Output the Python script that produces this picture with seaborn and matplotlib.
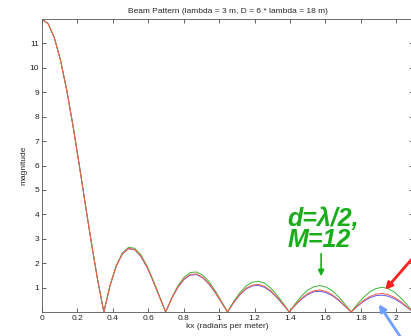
import numpy as np
import seaborn as sns
import matplotlib.pyplot as plt

sns.set_style("ticks")
plt.rcParams["font.family"] = ["Liberation Sans", "DejaVu Sans"]

# kx samples, 10 per lobe (nulls every ~0.349 rad/m)
kx = np.linspace(0, 2 * np.pi / 3, 61)

# d = lambda/2, M = 12 (green)
mag_green = [12.0, 11.81, 11.23, 10.31, 9.10, 7.66, 6.08, 4.44, 2.83, 1.32, 0.0,
             1.09, 1.90, 2.42, 2.65, 2.61, 2.34, 1.88, 1.29, 0.65, 0.0,
             0.59, 1.08, 1.43, 1.62, 1.64, 1.51, 1.25, 0.88, 0.45, 0.0,
             0.43, 0.79, 1.06, 1.22, 1.26, 1.18, 0.98, 0.70, 0.36, 0.0,
             0.35, 0.66, 0.90, 1.04, 1.08, 1.02, 0.86, 0.62, 0.32, 0.0,
             0.32, 0.60, 0.82, 0.96, 1.01, 0.96, 0.81, 0.59, 0.31, 0.0]
# red curve
mag_red = [12.0, 11.80, 11.23, 10.30, 9.09, 7.64, 6.06, 4.42, 2.81, 1.31, 0.0,
           1.08, 1.88, 2.39, 2.61, 2.56, 2.29, 1.83, 1.26, 0.63, 0.0,
           0.57, 1.03, 1.36, 1.54, 1.56, 1.42, 1.17, 0.82, 0.42, 0.0,
           0.39, 0.72, 0.97, 1.10, 1.13, 1.05, 0.87, 0.62, 0.32, 0.0,
           0.30, 0.56, 0.76, 0.87, 0.90, 0.84, 0.70, 0.50, 0.26, 0.0,
           0.25, 0.47, 0.63, 0.73, 0.76, 0.71, 0.60, 0.43, 0.22, 0.0]
# blue curve
mag_blue = [12.0, 11.80, 11.23, 10.30, 9.08, 7.64, 6.05, 4.41, 2.81, 1.31, 0.0,
            1.07, 1.87, 2.38, 2.59, 2.55, 2.27, 1.82, 1.25, 0.62, 0.0,
            0.56, 1.02, 1.34, 1.51, 1.53, 1.40, 1.14, 0.80, 0.41, 0.0,
            0.38, 0.70, 0.94, 1.07, 1.09, 1.01, 0.84, 0.59, 0.30, 0.0,
            0.29, 0.53, 0.72, 0.83, 0.85, 0.79, 0.66, 0.47, 0.24, 0.0,
            0.23, 0.43, 0.58, 0.67, 0.69, 0.65, 0.54, 0.39, 0.20, 0.0]

xticks = [0, 0.2, 0.4, 0.6, 0.8, 1, 1.2, 1.4, 1.6, 1.8, 2]
xtick_labels = ["0", "0.2", "0.4", "0.6", "0.8", "1", "1.2", "1.4", "1.6", "1.8", "2"]
yticks = list(range(1, 12))

fig = plt.figure(figsize=(4.11, 3.36), dpi=100)
ax = fig.add_axes([0.1022, 0.0714, 0.9025, 0.872])

sns.lineplot(x=kx, y=mag_blue, color="#5a5aff", linewidth=0.7, ax=ax)
sns.lineplot(x=kx, y=mag_green, color="#3cb43c", linewidth=0.7, ax=ax)
sns.lineplot(x=kx, y=mag_red, color="#ff5a3c", linewidth=0.7, ax=ax)

ax.set_xlim(0, 2 * np.pi / 3)
ax.set_ylim(0, 12)
ax.set_xticks(xticks)
ax.set_xticklabels(xtick_labels)
ax.set_yticks(yticks)
ax.tick_params(direction="in", length=3, width=0.5, labelsize=6, pad=2,
               top=True, right=True, colors="#222222")
for s in ax.spines.values():
    s.set_linewidth(0.6)
    s.set_color("#555555")

ax.set_title("Beam Pattern (lambda = 3 m, D = 6 * lambda = 18 m)", fontsize=6, pad=4)
ax.set_xlabel("kx (radians per meter)", fontsize=6, labelpad=1)
ax.set_ylabel("magnitude", fontsize=6, labelpad=2)

# annotations
ax.text(1.385, 4.3, "d=λ/2,\nM=12", color="#1aad1a", fontsize=18,
        fontweight="bold", fontstyle="italic", ha="left", va="top",
        linespacing=0.82)
ax.annotate("", xy=(1.576, 1.35), xytext=(1.576, 2.5),
            arrowprops=dict(arrowstyle="-|>", color="#1aad1a", lw=1.2,
                            mutation_scale=9), annotation_clip=False)
ax.annotate("", xy=(1.927, 0.82), xytext=(2.11, 2.35),
            arrowprops=dict(arrowstyle="-|>", color="#ff2020", lw=2.0,
                            mutation_scale=10), annotation_clip=False)
ax.annotate("", xy=(1.893, 0.41), xytext=(2.04, -1.2),
            arrowprops=dict(arrowstyle="-|>", color="#6fa0ff", lw=2.0,
                            mutation_scale=10), annotation_clip=False)

fig.savefig("out.png", dpi=100)
